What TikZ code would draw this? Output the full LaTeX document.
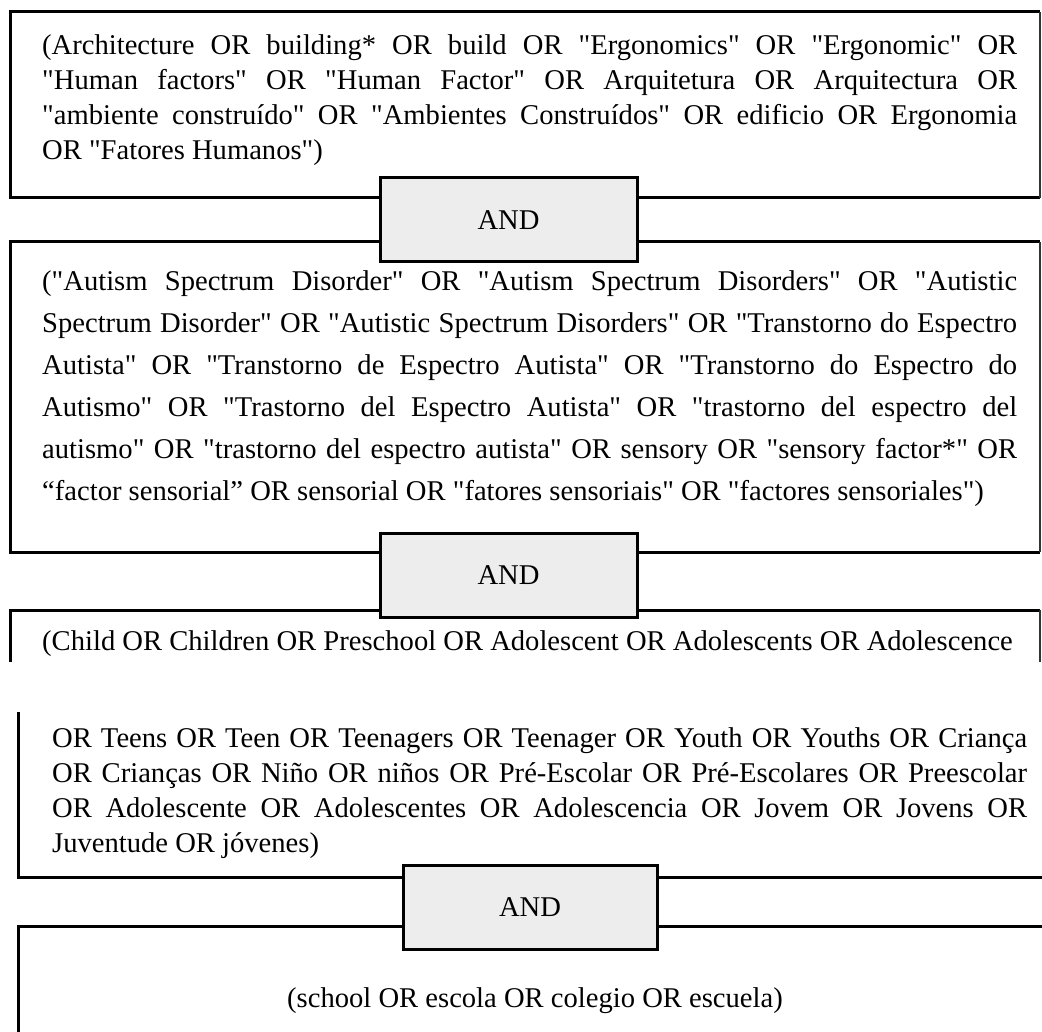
\documentclass[tikz,border=0pt]{standalone}
\usepackage{fontspec}
\setmainfont{Liberation Serif}[Ligatures=TeXOff]
\usepackage{tikz}

\definecolor{andgrey}{HTML}{EDEDED}
\newcommand{\qfont}{\fontsize{28.6}{35}\selectfont}

\begin{document}
\begin{tikzpicture}[
    x=1pt, y=-1pt,
    frame/.style={draw=black, line width=3pt},
    thinside/.style={draw=black!80, line width=1.4pt},
    query/.style={anchor=base west, text width=975pt, align=justify, inner sep=0pt, font=\qfont},
    andbox/.style={draw=black, line width=3pt, fill=andgrey, minimum width=257pt, minimum height=84pt, inner sep=0pt, font=\qfont}
]
    \useasboundingbox (0,0) rectangle (1042,1032);
    \clip (0,0) rectangle (1042,1032);

    \draw[frame] (1040,12) -- (10,12) -- (10,198) -- (1040,198);
    \draw[thinside] (1040,12) -- (1040,198);
    \draw[frame] (1040,242) -- (10,242) -- (10,552) -- (1040,552);
    \draw[thinside] (1040,242) -- (1040,552);
    \draw[frame] (10,662) -- (10,610) -- (1040,610);
    \draw[thinside] (1040,610) -- (1040,662);
    \draw[frame] (18,712) -- (18,877) -- (1050,877);
    \draw[frame] (18,1040) -- (18,926) -- (1050,926);

    \node[query] (q1) at (42,55) {(Architecture OR building* OR build OR "Ergonomics" OR "Ergonomic" OR\linebreak
        "Human factors" OR "Human Factor" OR Arquitetura OR Arquitectura OR\linebreak
        "ambiente construído" OR "Ambientes Construídos" OR edificio OR Ergonomia\linebreak
        OR "Fatores Humanos")};
    \node[query, font=\fontsize{28.6}{42}\selectfont] (q2) at (42,291) {("Autism Spectrum Disorder" OR "Autism Spectrum Disorders" OR "Autistic\linebreak
        Spectrum Disorder" OR "Autistic Spectrum Disorders" OR "Transtorno do Espectro\linebreak
        Autista" OR "Transtorno de Espectro Autista" OR "Transtorno do Espectro do\linebreak
        Autismo" OR "Trastorno del Espectro Autista" OR "trastorno del espectro del\linebreak
        autismo" OR "trastorno del espectro autista" OR sensory OR "sensory factor*" OR\linebreak
        “factor sensorial” OR sensorial OR "fatores sensoriais" OR "factores sensoriales")};
    \node[query] (q3a) at (42,650) {\parfillskip=0pt (Child OR Children OR Preschool OR Adolescent OR Adolescents OR Adolescence};
    \node[query] (q3b) at (52,747) {OR Teens OR Teen OR Teenagers OR Teenager OR Youth OR Youths OR Criança\linebreak
        OR Crianças OR Niño OR niños OR Pré-Escolar OR Pré-Escolares OR Preescolar\linebreak
        OR Adolescente OR Adolescentes OR Adolescencia OR Jovem OR Jovens OR\linebreak
        Juventude OR jóvenes)};
    \node[anchor=base, inner sep=0pt, font=\qfont] (q4) at (535,1007) {(school OR escola OR colegio OR escuela)};

    \node[andbox] (and1) at (508.5,220) {AND};
    \node[andbox] (and2) at (508.5,575) {AND};
    \node[andbox, minimum width=254pt] (and3) at (530,907) {AND};
\end{tikzpicture}
\end{document}
